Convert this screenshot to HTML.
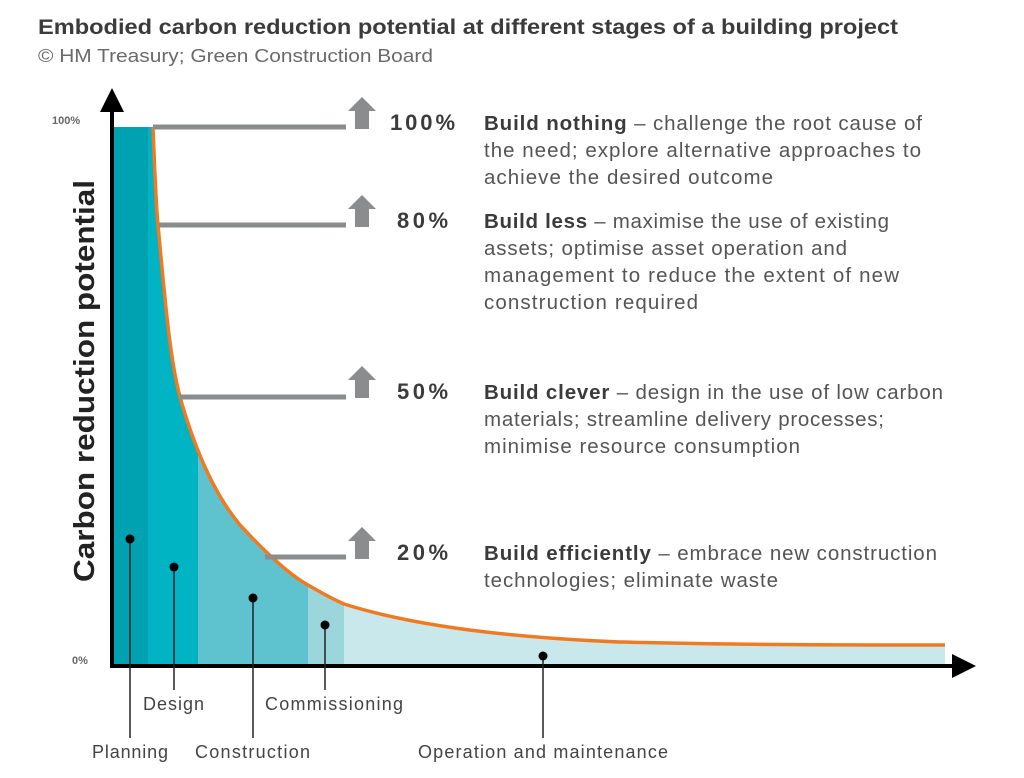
<!DOCTYPE html>
<html><head><meta charset="utf-8"><style>
html,body{margin:0;padding:0;background:#fff;}
svg{display:block;font-family:"Liberation Sans",sans-serif;}
</style></head><body>
<svg width="1024" height="778" viewBox="0 0 1024 778" xmlns="http://www.w3.org/2000/svg">
<text x="38" y="34" font-size="21" font-weight="bold" fill="#3b3b3b" textLength="860" lengthAdjust="spacingAndGlyphs">Embodied carbon reduction potential at different stages of a building project</text>
<text x="38" y="62" font-size="18.5" fill="#6a6a6a" textLength="395" lengthAdjust="spacingAndGlyphs">© HM Treasury; Green Construction Board</text>
<defs>
<clipPath id="c"><path d="M112,666 L112,127 L153,127 C155,180 157,215 158,225 C165,300 170,360 180,397 C195,450 215,495 240,525 C265,552 290,575 308,585 C325,595 335,600 344,604 C420,628 520,638 620,642 C750,645 850,645 945,645 L945,666 Z"/></clipPath>
</defs>
<g clip-path="url(#c)">
<rect x="112" y="120" width="36" height="550" fill="#00a2b1"/>
<rect x="148" y="120" width="50" height="550" fill="#00b4c3"/>
<rect x="198" y="120" width="110" height="550" fill="#5ec3ce"/>
<rect x="308" y="120" width="36" height="550" fill="#9bd6dd"/>
<rect x="344" y="120" width="610" height="550" fill="#c9e8ec"/>
</g>
<path d="M153,127 C155,180 157,215 158,225 C165,300 170,360 180,397 C195,450 215,495 240,525 C265,552 290,575 308,585 C325,595 335,600 344,604 C420,628 520,638 620,642 C750,645 850,645 945,645" fill="none" stroke="#f07a22" stroke-width="3.5"/>
<g stroke="#8a8c8e" stroke-width="5">
<line x1="153" y1="127" x2="346" y2="127"/>
<line x1="159" y1="225" x2="346" y2="225"/>
<line x1="180" y1="397" x2="346" y2="397"/>
<line x1="265" y1="557" x2="346" y2="557"/>
</g>
<g fill="#8a8c8e">
<path d="M362,97 L376,111 L369,111 L369,129 L355,129 L355,111 L348,111 Z"/>
<path d="M362,195 L376,209 L369,209 L369,227 L355,227 L355,209 L348,209 Z"/>
<path d="M362,366 L376,380 L369,380 L369,398 L355,398 L355,380 L348,380 Z"/>
<path d="M362,527 L376,541 L369,541 L369,559 L355,559 L355,541 L348,541 Z"/>
</g>
<g font-size="22" font-weight="bold" fill="#3b3b3b" lengthAdjust="spacingAndGlyphs">
<text x="390" y="130" textLength="65">100%</text>
<text x="397" y="228" textLength="51">80%</text>
<text x="397" y="399" textLength="51">50%</text>
<text x="397" y="560" textLength="51">20%</text>
</g>
<g font-size="20.5" fill="#555" lengthAdjust="spacingAndGlyphs">
<text x="484" y="130" textLength="438"><tspan font-weight="bold" fill="#3b3b3b">Build nothing</tspan> – challenge the root cause of</text>
<text x="484" y="157" textLength="437">the need; explore alternative approaches to</text>
<text x="484" y="184" textLength="289">achieve the desired outcome</text>
<text x="484" y="228" textLength="405"><tspan font-weight="bold" fill="#3b3b3b">Build less</tspan> – maximise the use of existing</text>
<text x="484" y="255" textLength="363">assets; optimise asset operation and</text>
<text x="484" y="282" textLength="415">management to reduce the extent of new</text>
<text x="484" y="309" textLength="214">construction required</text>
<text x="484" y="399" textLength="459"><tspan font-weight="bold" fill="#3b3b3b">Build clever</tspan> – design in the use of low carbon</text>
<text x="484" y="426" textLength="400">materials; streamline delivery processes;</text>
<text x="484" y="453" textLength="316">minimise resource consumption</text>
<text x="484" y="560" textLength="453"><tspan font-weight="bold" fill="#3b3b3b">Build efficiently</tspan> – embrace new construction</text>
<text x="484" y="587" textLength="294">technologies; eliminate waste</text>
</g>
<line x1="112" y1="666" x2="112" y2="105" stroke="#000" stroke-width="4"/>
<path d="M112,88 L124,112 L100,112 Z" fill="#000"/>
<line x1="110" y1="666" x2="958" y2="666" stroke="#000" stroke-width="4"/>
<path d="M976,666 L952,654 L952,678 Z" fill="#000"/>
<text x="52" y="124" font-size="11" font-weight="bold" fill="#666">100%</text>
<text x="72" y="664" font-size="11" font-weight="bold" fill="#666">0%</text>
<text transform="translate(94,381) rotate(-90)" text-anchor="middle" font-size="29" font-weight="bold" fill="#222" textLength="402" lengthAdjust="spacingAndGlyphs">Carbon reduction potential</text>
<g stroke="#222" stroke-width="1.5">
<line x1="130" y1="539" x2="130" y2="738"/>
<line x1="174" y1="567" x2="174" y2="690"/>
<line x1="253" y1="598" x2="253" y2="738"/>
<line x1="325" y1="625" x2="325" y2="690"/>
<line x1="543" y1="656" x2="543" y2="738"/>
</g>
<g fill="#000">
<circle cx="130" cy="539" r="4.5"/><circle cx="174" cy="567" r="4.5"/><circle cx="253" cy="598" r="4.5"/><circle cx="325" cy="625" r="4.5"/><circle cx="543" cy="656" r="4.5"/>
</g>
<g font-size="18" fill="#444" lengthAdjust="spacingAndGlyphs">
<text x="92" y="758" textLength="76">Planning</text>
<text x="143" y="710" textLength="61">Design</text>
<text x="195" y="758" textLength="115">Construction</text>
<text x="265" y="710" textLength="138">Commissioning</text>
<text x="418" y="758" textLength="250">Operation and maintenance</text>
</g>
</svg>
</body></html>
